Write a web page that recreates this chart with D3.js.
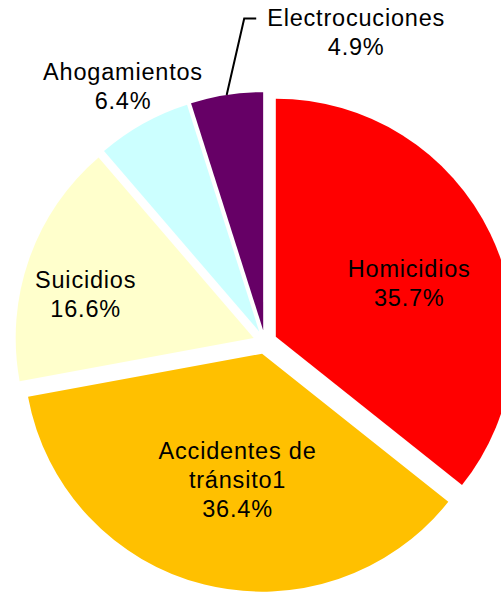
<!DOCTYPE html>
<html>
<head>
<meta charset="utf-8">
<script src="https://cdn.jsdelivr.net/npm/d3@7/dist/d3.min.js"></script>
<style>
  html, body { margin: 0; padding: 0; background: #ffffff; }
  svg { display: block; }
  text { font-family: "Liberation Sans", Arial, sans-serif; fill: #000; }
</style>
</head>
<body>
<svg id="chart" width="501" height="592"></svg>
<script>
// ---- data ----
const categories = ["Homicidios", "Accidentes de tránsito1", "Suicidios", "Ahogamientos", "Electrocuciones"];
const labelLines = [["Homicidios"], ["Accidentes de", "tránsito1"], ["Suicidios"], ["Ahogamientos"], ["Electrocuciones"]];
const values = [35.7, 36.4, 16.6, 6.4, 4.9];
const colors = ["#FF0000", "#FFC000", "#FFFFCC", "#CCFFFF", "#660066"];

// ---- layout / style ----
const W = 501, H = 592;
const cx = 265, cy = 342, R = 238, explode = 12;
const fontSize = 23.5, lineH = 29, capH = 17;
// label placement: polar (degrees clockwise from 12 o'clock, fraction of R) measured from exploded slice apex
const labelPolar = [
  { a: 67.9, f: 0.605 },
  { a: 191, f: 0.54 },
  { a: 284.7, f: 0.73 },
  { a: 331, f: 1.18 },
  { a: 17.3, f: 1.314, leader: true }
];

const svg = d3.select("#chart");
const g = svg.append("g").attr("transform", `translate(${cx},${cy})`);

const pie = d3.pie().sort(null).value(d => d).startAngle(0).endAngle(2 * Math.PI);
const arcs = pie(values);
const arc = d3.arc().innerRadius(0).outerRadius(R);

function polar(angleRad, radius) {
  return [Math.sin(angleRad) * radius, -Math.cos(angleRad) * radius];
}

arcs.forEach((d, i) => {
  const mid = (d.startAngle + d.endAngle) / 2;
  const [ox, oy] = polar(mid, explode);
  d.ox = ox; d.oy = oy; d.mid = mid;
});

g.selectAll("path.slice")
  .data(arcs)
  .join("path")
  .attr("class", "slice")
  .attr("transform", d => `translate(${d.ox},${d.oy})`)
  .attr("d", arc)
  .attr("fill", (d, i) => colors[i]);

// labels
arcs.forEach((d, i) => {
  const lp = labelPolar[i];
  const [lx, ly] = polar(lp.a * Math.PI / 180, lp.f * R);
  const tx = d.ox + lx, ty = d.oy + ly;
  const lines = labelLines[i].concat([d3.format(".1f")(values[i]) + "%"]);
  const n = lines.length;
  const t = g.append("text")
    .attr("text-anchor", "middle")
    .style("font-size", fontSize + "px")
    .style("letter-spacing", "0.8px");
  lines.forEach((ln, k) => {
    t.append("tspan")
      .attr("x", tx)
      .attr("y", ty + (k - (n - 1) / 2) * lineH + capH / 2)
      .text(ln);
  });
  if (lp.leader) {
    const first = t.select("tspan").node();
    const w = first.getComputedTextLength();
    const left = tx - w / 2;
    const yLine = ty + (0 - (n - 1) / 2) * lineH + capH / 2 - 7;
    const [sx, sy] = polar(d.mid, R);
    const pts = [[d.ox + sx, d.oy + sy], [left - 23, yLine], [left - 11, yLine]];
    g.append("path")
      .attr("d", d3.line()(pts))
      .attr("fill", "none")
      .attr("stroke", "#000")
      .attr("stroke-width", 2);
  }
});
</script>
</body>
</html>
